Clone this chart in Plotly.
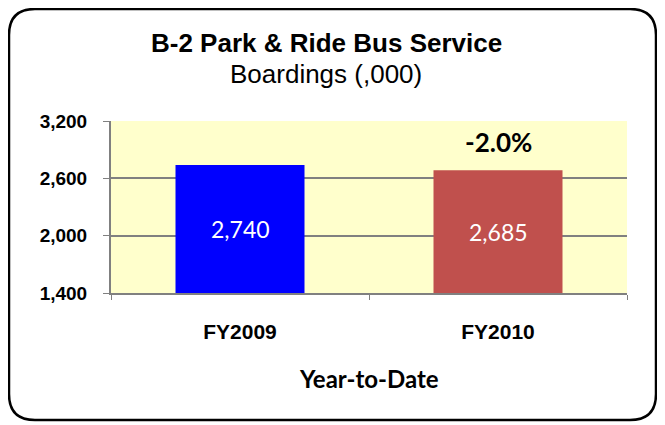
import plotly.graph_objects as go

categories = ["FY2009", "FY2010"]
boardings = [2740, 2685]
bar_colors = ["#0000FF", "#C0504D"]
change_label = "-2.0%"
y_ticks = [1400, 2000, 2600, 3200]

# the page body adds an 8px margin, so the figure is drawn 8px smaller
OFF = 8
W, H = 665 - OFF, 425 - OFF
L, R, T, B = 103, 38, 113, 132
pw, ph = W - L - R, H - T - B


def px(x):
    return (x - OFF - L) / pw


def py(y):
    return (H - B - (y - OFF)) / ph


fig = go.Figure()
fig.add_trace(go.Bar(
    x=categories, y=boardings, width=0.5,
    marker=dict(color=bar_colors, line=dict(width=0)),
    hoverinfo="skip",
))

# value labels in the middle of the visible part of each bar
for cat, v in zip(categories, boardings):
    fig.add_annotation(text=f"{v:,}", x=cat, y=(y_ticks[0] + v) / 2, showarrow=False,
                       font=dict(family="Lato, Carlito, sans-serif", size=23, color="white"))

# rounded outer frame
x0, x1, y0, y1, r = px(9), px(656), py(9), py(420), 26
rx, ry = r / pw, r / ph
path = (f"M {x0+rx},{y0} L {x1-rx},{y0} Q {x1},{y0} {x1},{y0-ry} "
        f"L {x1},{y1+ry} Q {x1},{y1} {x1-rx},{y1} "
        f"L {x0+rx},{y1} Q {x0},{y1} {x0},{y1+ry} "
        f"L {x0},{y0-ry} Q {x0},{y0} {x0+rx},{y0} Z")
fig.add_shape(type="path", path=path, xref="paper", yref="paper",
              line=dict(color="black", width=2.5), layer="below")


def label(text, x, y, size, family):
    fig.add_annotation(text=text, xref="paper", yref="paper", x=px(x), y=py(y),
                       xanchor="center", yanchor="middle", showarrow=False,
                       font=dict(family=family, size=size, color="black"))


label("<b>B-2 Park & Ride Bus Service</b>", 326, 43, 26, "Liberation Sans, Arial")
label("Boardings (,000)", 326, 74, 26, "Liberation Sans, Arial")
label("<b>Year-to-Date</b>", 369, 378, 24, "Lato, Carlito, sans-serif")

fig.add_annotation(text=f"<b>{change_label}</b>", x=categories[1], y=2980,
                   showarrow=False,
                   font=dict(family="Lato, Carlito, sans-serif", size=26, color="black"))

fig.update_layout(
    width=W, height=H,
    margin=dict(l=L, r=R, t=T, b=B),
    paper_bgcolor="white", plot_bgcolor="#FFFFCC",
    showlegend=False, bargap=0.5,
    xaxis=dict(type="category", tickson="boundaries", ticks="outside", ticklen=5,
               tickcolor="#808080", showline=True, linecolor="#808080", linewidth=2,
               showgrid=False, ticklabelstandoff=19,
               tickfont=dict(family="Liberation Sans, Arial", size=21, color="black"),
               tickprefix="<b>", ticksuffix="</b>"),
    yaxis=dict(range=[1400, 3200], tickvals=y_ticks, ticktext=[f"<b>{v:,}</b>" for v in y_ticks],
               ticks="outside", ticklen=6, tickcolor="#808080",
               showline=True, linecolor="#808080", linewidth=2,
               showgrid=True, gridcolor="#808080", gridwidth=2, zeroline=False,
               ticklabelstandoff=12,
               tickfont=dict(family="Liberation Sans, Arial", size=19, color="black")),
)

fig.write_html("out.html")
